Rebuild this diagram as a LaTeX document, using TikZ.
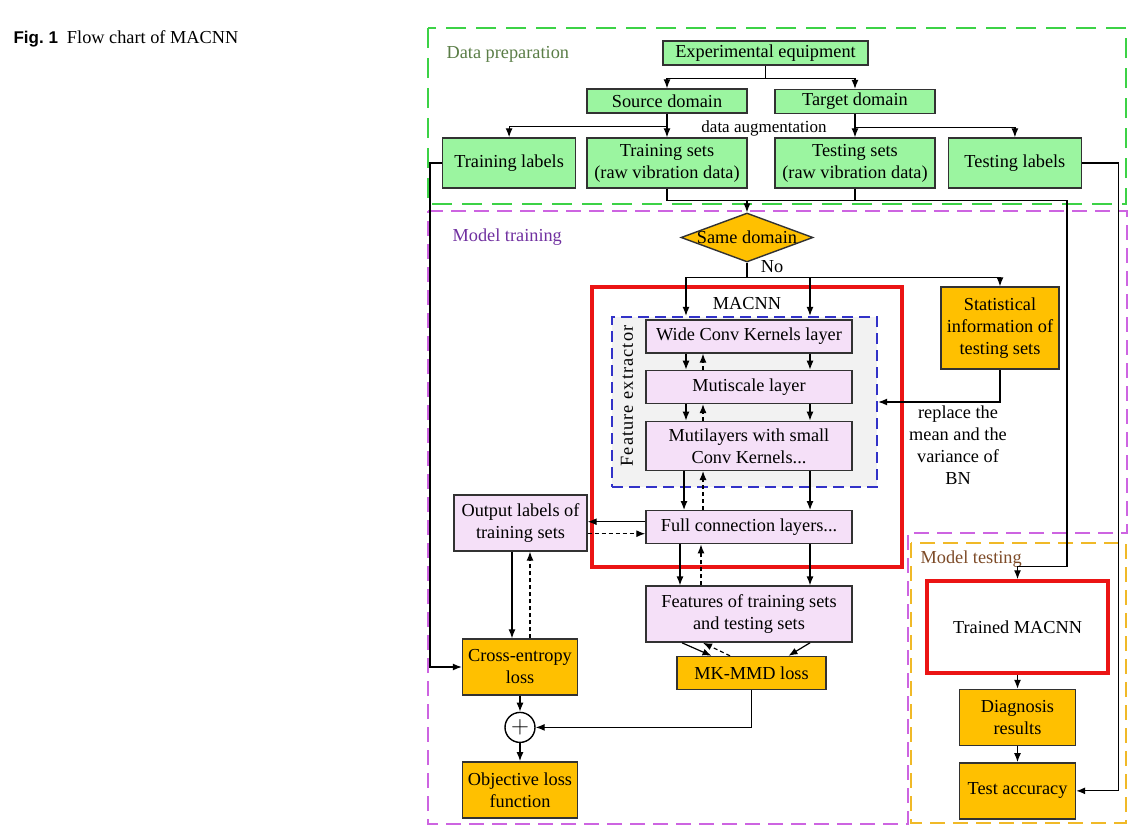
\documentclass[tikz,border=0pt]{standalone}
\usepackage{fontspec}
\setmainfont{Liberation Serif}
\newfontfamily\figfont{Liberation Sans}
\usetikzlibrary{arrows.meta,positioning,shapes.geometric,calc}

\definecolor{prepfill}{RGB}{155,245,160}
\definecolor{layerfill}{RGB}{245,224,248}
\definecolor{lossfill}{RGB}{255,192,0}
\definecolor{featfill}{RGB}{242,242,242}
\definecolor{prepline}{RGB}{60,210,70}
\definecolor{trainline}{RGB}{205,100,225}
\definecolor{testline}{RGB}{240,185,40}
\definecolor{featline}{RGB}{50,50,200}
\definecolor{netred}{RGB}{235,20,20}
\definecolor{preptext}{RGB}{90,125,70}
\definecolor{traintext}{RGB}{112,48,160}
\definecolor{testtext}{RGB}{125,75,40}
\definecolor{boxline}{RGB}{50,50,50}

\begin{document}
\begin{tikzpicture}[
		x=1pt, y=-1pt,
		line width=1.2pt,
		font=\fontsize{18.3}{22}\selectfont,
		box/.style={draw=boxline, line width=1.4pt, inner sep=2pt, align=center},
		prep/.style={box, fill=prepfill, minimum height=24pt},
		layer/.style={box, fill=layerfill, minimum width=206pt},
		loss/.style={box, fill=lossfill},
		area/.style={line width=2.6pt, dash pattern=on 15pt off 8pt},
		redbox/.style={draw=netred, line width=3.5pt},
		arr/.style={-{Latex[length=9pt,width=7pt]}},
		back/.style={arr, dash pattern=on 4pt off 3pt},
	]
		\path (0,0) rectangle (1138,838);

		% regions
		\draw[area, prepline, line width=2.8pt, dash pattern=on 20pt off 10pt] (428,28) rectangle (1126,204);
		\draw[area, trainline] (428,211) -- (1127,211) -- (1127,533) -- (908,533) -- (908,824) -- (428,824) -- cycle;
		\draw[area, testline] (911,543) rectangle (1126,823);

		\node (title) [anchor=base west, inner sep=0pt] at (13,43) {{\fontsize{17}{20}\figfont\bfseries Fig.~1}\hspace{9pt}Flow chart of MACNN};
		\node (preplab) [anchor=base west, inner sep=0pt, text=preptext] at (446,58) {Data preparation};
		\node (trainlab) [anchor=base west, inner sep=0pt, text=traintext] at (452,241) {Model training};
		\node (testlab) [anchor=base west, inner sep=0pt, text=testtext] at (920,563) {Model testing};

		% data preparation
		\node (equip) [prep, minimum width=205pt] at (765.5,53) {Experimental equipment};
		\node (source) [prep, minimum width=160pt] at (667,101) {Source domain};
		\node (target) [prep, minimum width=160pt] at (855,101.5) {Target domain};
		\node (trset) [prep, minimum width=160pt, minimum height=50pt] at (667,163) {Training sets\\(raw vibration data)};
		\node (teset) [prep, minimum width=160pt, minimum height=50pt] at (855,163) {Testing sets\\(raw vibration data)};
		\node (trlab) [prep, minimum width=133pt, minimum height=50pt, left=10pt of trset] {Training labels};
		\node (telab) [prep, minimum width=133pt, minimum height=50pt, right=12pt of teset] {Testing labels};
		\node (augm) [anchor=base, inner sep=0pt, font=\fontsize{17}{20}\selectfont] at (764,132) {data augmentation};

		% model training
		\node (same) [diamond, draw=boxline, line width=1.4pt, fill=lossfill, minimum width=132pt, minimum height=49pt, inner sep=0pt] at (747,237.5) {\makebox[0pt]{Same domain}};
		\node (no) [anchor=base, inner sep=0pt] at (772,272) {No};

		\node (macnn) [redbox, minimum width=310pt, minimum height=280pt] at (747,427) {};
		\node (macnnlab) [anchor=base, inner sep=0pt] at (747,309) {MACNN};
		\node (fe) [draw=featline, fill=featfill, line width=2.4pt, dash pattern=on 11pt off 6pt, minimum width=265pt, minimum height=170pt] at (744.5,402) {};
		\node (felab) [rotate=90] at (627,396) {\addfontfeature{LetterSpace=6}Feature extractor};

		\node (wide) [layer, minimum height=33pt] at (749,336.5) {Wide Conv Kernels layer};
		\node (multi) [layer, minimum height=33pt, below=16pt of wide] {Mutiscale layer};
		\node (small) [layer, minimum height=49pt, below=16.5pt of multi] {Mutilayers with small\\Conv Kernels...};
		\node (fc) [layer, minimum height=33pt, below=39pt of small] {Full connection layers...};
		\node (feat) [layer, minimum height=56pt, below=41pt of fc] {Features of training sets\\and testing sets};
		\node (mmd) [loss, minimum width=149pt, minimum height=33pt, below=13pt of feat, xshift=2.5pt] {MK-MMD loss};

		\node (stat) [loss, minimum width=118pt, minimum height=82pt] at (1000,328) {Statistical\\information of\\testing sets};
		\node (bnnote) [align=center] at (958,445) {replace the\\mean and the\\variance of\\BN};

		\node (outlab) [layer, minimum width=133pt, minimum height=56pt] at (520.5,523) {Output labels of\\training sets};
		\node (ce) [loss, minimum width=115pt, minimum height=56pt] at (520,667) {Cross-entropy\\loss};
		\node (plus) [circle, draw=black, line width=1.4pt, minimum size=30pt, inner sep=0pt, below=16pt of ce] {\fontsize{30}{30}\selectfont$+$};
		\node (obj) [loss, minimum width=115pt, minimum height=56pt, below=18pt of plus] {Objective loss\\function};

		% model testing
		\node (trained) [redbox, fill=white, minimum width=181pt, minimum height=92pt] at (1017.5,627) {Trained MACNN};
		\node (diag) [loss, minimum width=116pt, minimum height=56pt, below=14pt of trained] {Diagnosis\\results};
		\node (acc) [loss, minimum width=116pt, minimum height=56pt, below=16pt of diag] {Test accuracy};

		% connectors
		\draw[arr] (equip.south) -- ++(0,13) -| (source.north);
		\draw[arr] (equip.south) -- ++(0,13) -| (target.north);
		\draw[arr] (source) -- (trset);
		\draw[arr] (source.south) -- ++(0,13) -| (trlab.north);
		\draw[arr] (target) -- (teset);
		\draw[arr] (target.south) -- ++(0,13) -| (telab.north);

		\draw[arr] (trlab.west) -- ++(-12,0) |- (ce.west);
		\draw[arr] (telab.east) -- ++(36,0) |- (acc.east);

		\draw (trset.south) -- ++(0,12) coordinate (merge) -| (teset.south);
		\draw[arr] (merge -| same.north) -- (same.north);
		\draw[arr] (teset.south) -- ++(0,12) -- ++(212,0) |- ($(trained.north)+(0,-13)$) -- (trained.north);

		\draw (same.south) -- ++(0,15) coordinate (nob);
		\draw[arr] (nob) -| ([xshift=-63pt]wide.north |- fe.north);
		\draw[arr] (nob) -| ([xshift=61pt]wide.north |- fe.north);
		\draw[arr] (nob) -| (stat.north);
		\draw[arr] (stat.south) |- (fe.east);

		\draw[arr] ([xshift=-63pt]wide.south) -- ([xshift=-63pt]multi.north);
		\draw[back] ([xshift=-46pt]multi.north) -- ([xshift=-46pt]wide.south);
		\draw[arr] ([xshift=61pt]wide.south) -- ([xshift=61pt]multi.north);
		\draw[arr] ([xshift=-63pt]multi.south) -- ([xshift=-63pt]small.north);
		\draw[back] ([xshift=-46pt]small.north) -- ([xshift=-46pt]multi.south);
		\draw[arr] ([xshift=61pt]multi.south) -- ([xshift=61pt]small.north);
		\draw[arr] ([xshift=-65pt]small.south) -- ([xshift=-65pt]fc.north);
		\draw[back] ([xshift=-46pt]fc.north) -- ([xshift=-46pt]small.south);
		\draw[arr] ([xshift=61pt]small.south) -- ([xshift=61pt]fc.north);
		\draw[arr] ([xshift=-69pt]fc.south) -- ([xshift=-69pt]feat.north);
		\draw[back] ([xshift=-48pt]feat.north) -- ([xshift=-48pt]fc.south);
		\draw[arr] ([xshift=61pt]fc.south) -- ([xshift=61pt]feat.north);

		\draw[arr] ([xshift=-67pt]feat.south) -- ([xshift=-40pt]mmd.north);
		\draw[arr] ([xshift=61pt]feat.south) -- ([xshift=37pt]mmd.north);
		\draw[back] ([xshift=-21.5pt]mmd.north) -- ([xshift=-46pt]feat.south);

		\draw[arr] ([yshift=5.5pt]fc.west) -- ([yshift=5.5pt]fc.west -| outlab.east);
		\draw[back] ([yshift=-6.5pt]fc.west -| outlab.east) -- ([yshift=-6.5pt]fc.west);
		\draw[arr] ([xshift=-8pt]ce.north |- outlab.south) -- ([xshift=-8pt]ce.north);
		\draw[back] ([xshift=10pt]ce.north) -- ([xshift=10pt]ce.north |- outlab.south);

		\draw[arr] (ce) -- (plus);
		\draw[arr] (plus) -- (obj);
		\draw[arr] (mmd.south) |- (plus.east);

		\draw[arr] (trained) -- (diag);
		\draw[arr] (diag) -- (acc);
	\end{tikzpicture}
\end{document}
